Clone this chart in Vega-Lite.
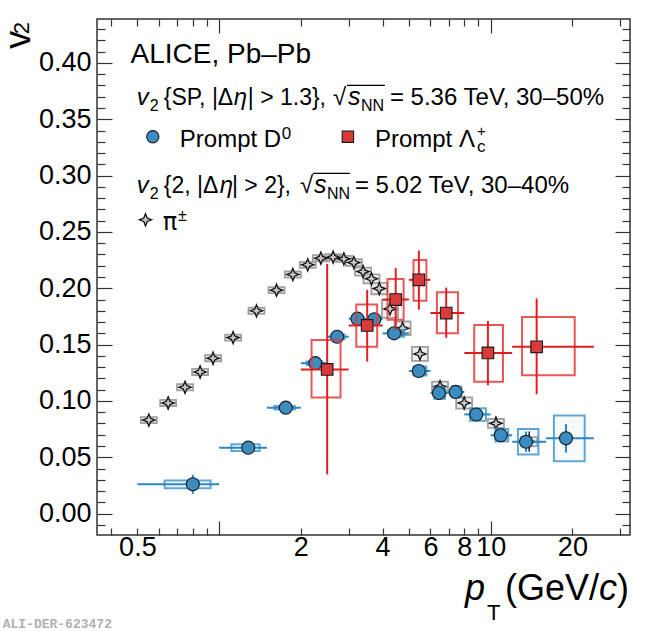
{
  "$schema": "https://vega.github.io/schema/vega-lite/v6.json",
  "width": 533,
  "height": 516,
  "autosize": "none",
  "padding": {"left": 97, "top": 19, "right": 20, "bottom": 96},
  "config": {
    "font": "Liberation Sans",
    "view": {"stroke": "#333333", "strokeWidth": 1.5},
    "axis": {"grid": false, "domain": false, "tickColor": "#333333", "tickWidth": 1.2, "labelColor": "#000000", "labelFont": "Liberation Sans", "labelFontSize": 27, "labelOverlap": false, "labelFlush": false, "title": null},
    "text": {"font": "Liberation Sans", "color": "#000000", "align": "left", "baseline": "alphabetic"}
  },
  "datasets": {
    "pi": [
      {"pt": 0.551, "v2": 0.0830, "ylo": 0.0803, "yhi": 0.0857, "slo": 0.0822, "shi": 0.0838},
      {"pt": 0.649, "v2": 0.0982, "ylo": 0.0955, "yhi": 0.1009, "slo": 0.0974, "shi": 0.0990},
      {"pt": 0.749, "v2": 0.1121, "ylo": 0.1094, "yhi": 0.1148, "slo": 0.1113, "shi": 0.1129},
      {"pt": 0.851, "v2": 0.1257, "ylo": 0.1230, "yhi": 0.1284, "slo": 0.1249, "shi": 0.1265},
      {"pt": 0.950, "v2": 0.1379, "ylo": 0.1352, "yhi": 0.1406, "slo": 0.1371, "shi": 0.1387},
      {"pt": 1.126, "v2": 0.1562, "ylo": 0.1535, "yhi": 0.1589, "slo": 0.1554, "shi": 0.1570},
      {"pt": 1.373, "v2": 0.1800, "ylo": 0.1773, "yhi": 0.1827, "slo": 0.1792, "shi": 0.1808},
      {"pt": 1.627, "v2": 0.1983, "ylo": 0.1956, "yhi": 0.2010, "slo": 0.1975, "shi": 0.1991},
      {"pt": 1.869, "v2": 0.2122, "ylo": 0.2095, "yhi": 0.2149, "slo": 0.2114, "shi": 0.2130},
      {"pt": 2.120, "v2": 0.2208, "ylo": 0.2181, "yhi": 0.2235, "slo": 0.2200, "shi": 0.2216},
      {"pt": 2.370, "v2": 0.2267, "ylo": 0.2240, "yhi": 0.2294, "slo": 0.2259, "shi": 0.2275},
      {"pt": 2.630, "v2": 0.2276, "ylo": 0.2249, "yhi": 0.2303, "slo": 0.2268, "shi": 0.2284},
      {"pt": 2.880, "v2": 0.2261, "ylo": 0.2234, "yhi": 0.2288, "slo": 0.2253, "shi": 0.2269},
      {"pt": 3.135, "v2": 0.2228, "ylo": 0.2198, "yhi": 0.2258, "slo": 0.2218, "shi": 0.2238},
      {"pt": 3.390, "v2": 0.2148, "ylo": 0.2113, "yhi": 0.2183, "slo": 0.2138, "shi": 0.2158},
      {"pt": 3.640, "v2": 0.2084, "ylo": 0.2044, "yhi": 0.2124, "slo": 0.2072, "shi": 0.2096},
      {"pt": 3.890, "v2": 0.1997, "ylo": 0.1947, "yhi": 0.2047, "slo": 0.1985, "shi": 0.2009},
      {"pt": 4.260, "v2": 0.1817, "ylo": 0.1737, "yhi": 0.1897, "slo": 0.1787, "shi": 0.1847},
      {"pt": 4.740, "v2": 0.1645, "ylo": 0.1585, "yhi": 0.1705, "slo": 0.1615, "shi": 0.1675},
      {"pt": 5.490, "v2": 0.1417, "ylo": 0.1355, "yhi": 0.1479, "slo": 0.1387, "shi": 0.1447},
      {"pt": 6.510, "v2": 0.1127, "ylo": 0.1082, "yhi": 0.1172, "slo": 0.1097, "shi": 0.1157},
      {"pt": 7.990, "v2": 0.0982, "ylo": 0.0932, "yhi": 0.1032, "slo": 0.0942, "shi": 0.1022},
      {"pt": 10.46, "v2": 0.0801, "ylo": 0.0761, "yhi": 0.0841, "slo": 0.0741, "shi": 0.0861},
      {"pt": 13.87, "v2": 0.0638, "ylo": 0.0598, "yhi": 0.0678, "slo": 0.0548, "shi": 0.0728}
    ],
    "d0": [
      {"pt": 0.80, "v2": 0.0260, "plo": 0.5, "phi": 1.0, "bxlo": 0.63, "bxhi": 0.93, "ylo": 0.0226, "yhi": 0.0294, "slo": 0.0175, "shi": 0.0345},
      {"pt": 1.28, "v2": 0.0585, "plo": 1.0, "phi": 1.5, "bxlo": 1.11, "bxhi": 1.41, "ylo": 0.0555, "yhi": 0.0615, "slo": 0.0565, "shi": 0.0605},
      {"pt": 1.76, "v2": 0.0940, "plo": 1.5, "phi": 2.0, "bxlo": 1.60, "bxhi": 1.90, "ylo": 0.0925, "yhi": 0.0955, "slo": 0.0920, "shi": 0.0960},
      {"pt": 2.26, "v2": 0.1335, "plo": 2.0, "phi": 2.5, "bxlo": 2.10, "bxhi": 2.40, "ylo": 0.1320, "yhi": 0.1350, "slo": 0.1305, "shi": 0.1365},
      {"pt": 2.72, "v2": 0.1570, "plo": 2.5, "phi": 3.0, "bxlo": 2.60, "bxhi": 2.90, "ylo": 0.1550, "yhi": 0.1590, "slo": 0.1540, "shi": 0.1600},
      {"pt": 3.23, "v2": 0.1730, "plo": 3.0, "phi": 3.5, "bxlo": 3.10, "bxhi": 3.40, "ylo": 0.1710, "yhi": 0.1750, "slo": 0.1700, "shi": 0.1760},
      {"pt": 3.73, "v2": 0.1725, "plo": 3.5, "phi": 4.0, "bxlo": 3.60, "bxhi": 3.90, "ylo": 0.1705, "yhi": 0.1745, "slo": 0.1695, "shi": 0.1755},
      {"pt": 4.41, "v2": 0.1600, "plo": 4.0, "phi": 5.0, "bxlo": 4.20, "bxhi": 4.80, "ylo": 0.1570, "yhi": 0.1630, "slo": 0.1570, "shi": 0.1630},
      {"pt": 5.44, "v2": 0.1266, "plo": 5.0, "phi": 6.0, "bxlo": 5.20, "bxhi": 5.80, "ylo": 0.1226, "yhi": 0.1306, "slo": 0.1236, "shi": 0.1296},
      {"pt": 6.45, "v2": 0.1070, "plo": 6.0, "phi": 7.0, "bxlo": 6.20, "bxhi": 6.80, "ylo": 0.1020, "yhi": 0.1120, "slo": 0.1030, "shi": 0.1110},
      {"pt": 7.43, "v2": 0.1080, "plo": 7.0, "phi": 8.0, "bxlo": 7.20, "bxhi": 7.80, "ylo": 0.1033, "yhi": 0.1127, "slo": 0.1040, "shi": 0.1120},
      {"pt": 8.85, "v2": 0.0880, "plo": 8.0, "phi": 10.0, "bxlo": 8.40, "bxhi": 9.60, "ylo": 0.0825, "yhi": 0.0935, "slo": 0.0830, "shi": 0.0930},
      {"pt": 10.9, "v2": 0.0695, "plo": 10.0, "phi": 12.0, "bxlo": 10.4, "bxhi": 11.6, "ylo": 0.0640, "yhi": 0.0750, "slo": 0.0645, "shi": 0.0745},
      {"pt": 13.5, "v2": 0.0638, "plo": 12.0, "phi": 16.0, "bxlo": 12.6, "bxhi": 15.0, "ylo": 0.0525, "yhi": 0.0750, "slo": 0.0548, "shi": 0.0728},
      {"pt": 18.95, "v2": 0.0668, "plo": 16.0, "phi": 24.0, "bxlo": 17.1, "bxhi": 22.2, "ylo": 0.0465, "yhi": 0.0871, "slo": 0.0542, "shi": 0.0794}
    ],
    "lc": [
      {"pt": 2.50, "v2": 0.1280, "plo": 2.0, "phi": 3.0, "bxlo": 2.19, "bxhi": 2.80, "ylo": 0.1030, "yhi": 0.1540, "slo": 0.0348, "shi": 0.2217},
      {"pt": 3.51, "v2": 0.1670, "plo": 3.0, "phi": 4.0, "bxlo": 3.20, "bxhi": 3.82, "ylo": 0.1480, "yhi": 0.1857, "slo": 0.1350, "shi": 0.1985},
      {"pt": 4.47, "v2": 0.1900, "plo": 4.0, "phi": 5.0, "bxlo": 4.17, "bxhi": 4.78, "ylo": 0.1720, "yhi": 0.2083, "slo": 0.1630, "shi": 0.2180},
      {"pt": 5.44, "v2": 0.2075, "plo": 5.0, "phi": 6.0, "bxlo": 5.20, "bxhi": 5.80, "ylo": 0.1890, "yhi": 0.2250, "slo": 0.1810, "shi": 0.2335},
      {"pt": 6.86, "v2": 0.1780, "plo": 6.0, "phi": 8.0, "bxlo": 6.34, "bxhi": 7.58, "ylo": 0.1600, "yhi": 0.1965, "slo": 0.1560, "shi": 0.2006},
      {"pt": 9.77, "v2": 0.1426, "plo": 8.0, "phi": 12.0, "bxlo": 8.70, "bxhi": 11.1, "ylo": 0.1170, "yhi": 0.1675, "slo": 0.1140, "shi": 0.1710},
      {"pt": 14.77, "v2": 0.1480, "plo": 12.0, "phi": 24.0, "bxlo": 13.05, "bxhi": 20.4, "ylo": 0.1228, "yhi": 0.1744, "slo": 0.1060, "shi": 0.1910}
    ],
    "one": [{}]
  },
  "resolve": {"axis": {"x": "independent", "y": "independent"}},
  "layer": [
    {
      "data": {"name": "pi"},
      "mark": {"type": "rect", "width": 16, "fill": "#e2e2e2", "fillOpacity": 0.6, "stroke": "#a0a0a0", "strokeWidth": 1.8},
      "encoding": {
        "x": {"field": "pt", "type": "quantitative", "scale": {"type": "log", "domain": [0.355, 32.6], "nice": false},
          "axis": {"orient": "bottom", "values": [0.4, 0.5, 0.6, 0.7, 0.8, 0.9, 1, 2, 3, 4, 5, 6, 7, 8, 9, 10, 20, 30],
            "tickSize": {"condition": {"test": "datum.value == 1 || datum.value == 10", "value": -14}, "value": -7},
            "labelPadding": {"condition": {"test": "datum.value == 10", "value": 13}, "value": 6},
            "labelExpr": "datum.value == 0.5 ? '0.5' : (indexof([2, 4, 6, 8, 10, 20], datum.value) >= 0 ? toString(datum.value) : '')"}},
        "y": {"field": "ylo", "type": "quantitative", "scale": {"type": "linear", "domain": [-0.019, 0.439], "nice": false, "zero": false},
          "axis": {"orient": "left", "values": [-0.01, 0, 0.01, 0.02, 0.03, 0.04, 0.05, 0.06, 0.07, 0.08, 0.09, 0.1, 0.11, 0.12, 0.13, 0.14, 0.15, 0.16, 0.17, 0.18, 0.19, 0.2, 0.21, 0.22, 0.23, 0.24, 0.25, 0.26, 0.27, 0.28, 0.29, 0.3, 0.31, 0.32, 0.33, 0.34, 0.35, 0.36, 0.37, 0.38, 0.39, 0.4, 0.41, 0.42, 0.43],
            "tickSize": {"condition": {"test": "abs(datum.value * 20 - round(datum.value * 20)) < 0.000001", "value": -15}, "value": -8},
            "labelPadding": 21,
            "labelExpr": "abs(datum.value * 20 - round(datum.value * 20)) < 0.000001 && datum.value > -0.001 ? format(datum.value, '.2f') : ''"}},
        "y2": {"field": "yhi"}
      }
    },
    {
      "data": {"name": "pi"},
      "mark": {"type": "rule", "color": "#222222", "strokeWidth": 1.5},
      "encoding": {
        "x": {"field": "pt", "type": "quantitative", "scale": {"type": "log", "domain": [0.355, 32.6], "nice": false},
          "axis": {"orient": "top", "values": [0.4, 0.5, 0.6, 0.7, 0.8, 0.9, 1, 2, 3, 4, 5, 6, 7, 8, 9, 10, 20, 30],
            "tickSize": {"condition": {"test": "datum.value == 1 || datum.value == 10", "value": -14}, "value": -7},
            "labels": false}},
        "y": {"field": "slo", "type": "quantitative", "scale": {"type": "linear", "domain": [-0.019, 0.439], "nice": false, "zero": false},
          "axis": {"orient": "right", "values": [-0.01, 0, 0.01, 0.02, 0.03, 0.04, 0.05, 0.06, 0.07, 0.08, 0.09, 0.1, 0.11, 0.12, 0.13, 0.14, 0.15, 0.16, 0.17, 0.18, 0.19, 0.2, 0.21, 0.22, 0.23, 0.24, 0.25, 0.26, 0.27, 0.28, 0.29, 0.3, 0.31, 0.32, 0.33, 0.34, 0.35, 0.36, 0.37, 0.38, 0.39, 0.4, 0.41, 0.42, 0.43],
            "tickSize": {"condition": {"test": "abs(datum.value * 20 - round(datum.value * 20)) < 0.000001", "value": -15}, "value": -8},
            "labels": false}},
        "y2": {"field": "shi"}
      }
    },
    {
      "data": {"name": "pi"},
      "mark": {"type": "point", "shape": "M0,-1L0.28,-0.28L1,0L0.28,0.28L0,1L-0.28,0.28L-1,0L-0.28,-0.28Z", "size": 150, "filled": true, "fill": "#c8c8c8", "stroke": "#111111", "strokeWidth": 1.3, "opacity": 1},
      "encoding": {
        "x": {"field": "pt", "type": "quantitative", "axis": null},
        "y": {"field": "v2", "type": "quantitative", "axis": null}
      }
    },
    {
      "data": {"name": "d0"},
      "mark": {"type": "rect", "fill": "#8fc1e3", "fillOpacity": 0.08, "stroke": "#3f98d0", "strokeOpacity": 0.85, "strokeWidth": 2},
      "encoding": {
        "x": {"field": "bxlo", "type": "quantitative", "axis": null},
        "x2": {"field": "bxhi"},
        "y": {"field": "ylo", "type": "quantitative", "axis": null},
        "y2": {"field": "yhi"}
      }
    },
    {
      "data": {"name": "d0"},
      "mark": {"type": "rule", "color": "#2a86c4", "strokeWidth": 2},
      "encoding": {
        "x": {"field": "plo", "type": "quantitative", "axis": null},
        "x2": {"field": "phi"},
        "y": {"field": "v2", "type": "quantitative", "axis": null}
      }
    },
    {
      "data": {"name": "d0"},
      "mark": {"type": "rule", "color": "#2a86c4", "strokeWidth": 2},
      "encoding": {
        "x": {"field": "pt", "type": "quantitative", "axis": null},
        "y": {"field": "slo", "type": "quantitative", "axis": null},
        "y2": {"field": "shi"}
      }
    },
    {
      "data": {"name": "d0"},
      "mark": {"type": "point", "shape": "circle", "size": 170, "filled": true, "fill": "#3a8cc1", "stroke": "#1a1a1a", "strokeWidth": 1.1, "opacity": 1},
      "encoding": {
        "x": {"field": "pt", "type": "quantitative", "axis": null},
        "y": {"field": "v2", "type": "quantitative", "axis": null}
      }
    },
    {
      "data": {"name": "lc"},
      "mark": {"type": "rect", "fill": "#ffffff", "fillOpacity": 0, "stroke": "#e3393b", "strokeOpacity": 0.85, "strokeWidth": 2},
      "encoding": {
        "x": {"field": "bxlo", "type": "quantitative", "axis": null},
        "x2": {"field": "bxhi"},
        "y": {"field": "ylo", "type": "quantitative", "axis": null},
        "y2": {"field": "yhi"}
      }
    },
    {
      "data": {"name": "lc"},
      "mark": {"type": "rule", "color": "#df2020", "strokeWidth": 2},
      "encoding": {
        "x": {"field": "plo", "type": "quantitative", "axis": null},
        "x2": {"field": "phi"},
        "y": {"field": "v2", "type": "quantitative", "axis": null}
      }
    },
    {
      "data": {"name": "lc"},
      "mark": {"type": "rule", "color": "#df2020", "strokeWidth": 2},
      "encoding": {
        "x": {"field": "pt", "type": "quantitative", "axis": null},
        "y": {"field": "slo", "type": "quantitative", "axis": null},
        "y2": {"field": "shi"}
      }
    },
    {
      "data": {"name": "lc"},
      "mark": {"type": "point", "shape": "square", "size": 135, "filled": true, "fill": "#d93b3b", "stroke": "#1a1a1a", "strokeWidth": 1.1, "opacity": 1},
      "encoding": {
        "x": {"field": "pt", "type": "quantitative", "axis": null},
        "y": {"field": "v2", "type": "quantitative", "axis": null}
      }
    },
    {"data": {"name": "one"}, "mark": {"type": "text", "text": "ALICE, Pb–Pb", "fontSize": 28},
      "encoding": {"x": {"datum": 0.4716, "type": "quantitative", "axis": null}, "y": {"datum": 0.4, "type": "quantitative", "axis": null}}},

    {"data": {"name": "one"}, "mark": {"type": "text", "text": "v", "fontSize": 24, "fontStyle": "italic"},
      "encoding": {"x": {"datum": 0.4973, "type": "quantitative", "axis": null}, "y": {"datum": 0.36295, "type": "quantitative", "axis": null}}},
    {"data": {"name": "one"}, "mark": {"type": "text", "text": "2", "fontSize": 16},
      "encoding": {"x": {"datum": 0.5555, "type": "quantitative", "axis": null}, "y": {"datum": 0.35762, "type": "quantitative", "axis": null}}},
    {"data": {"name": "one"}, "mark": {"type": "text", "text": "{SP, |Δ", "fontSize": 23},
      "encoding": {"x": {"datum": 0.6250, "type": "quantitative", "axis": null}, "y": {"datum": 0.36295, "type": "quantitative", "axis": null}}},
    {"data": {"name": "one"}, "mark": {"type": "text", "text": "η", "fontSize": 24, "fontStyle": "italic"},
      "encoding": {"x": {"datum": 1.1331, "type": "quantitative", "axis": null}, "y": {"datum": 0.36295, "type": "quantitative", "axis": null}}},
    {"data": {"name": "one"}, "mark": {"type": "text", "text": "| > 1.3},", "fontSize": 23},
      "encoding": {"x": {"datum": 1.2750, "type": "quantitative", "axis": null}, "y": {"datum": 0.36295, "type": "quantitative", "axis": null}}},
    {"data": {"name": "one"}, "mark": {"type": "text", "text": "√", "fontSize": 24},
      "encoding": {"x": {"datum": 2.6240, "type": "quantitative", "axis": null}, "y": {"datum": 0.36295, "type": "quantitative", "axis": null}}},
    {"data": {"name": "one"}, "mark": {"type": "text", "text": "s", "fontSize": 25, "fontStyle": "italic"},
      "encoding": {"x": {"datum": 2.9800, "type": "quantitative", "axis": null}, "y": {"datum": 0.36295, "type": "quantitative", "axis": null}}},
    {"data": {"name": "one"}, "mark": {"type": "text", "text": "NN", "fontSize": 16},
      "encoding": {"x": {"datum": 3.3300, "type": "quantitative", "axis": null}, "y": {"datum": 0.35762, "type": "quantitative", "axis": null}}},
    {"data": {"name": "one"}, "mark": {"type": "text", "text": "= 5.36 TeV, 30–50%", "fontSize": 24},
      "encoding": {"x": {"datum": 4.2556, "type": "quantitative", "axis": null}, "y": {"datum": 0.36295, "type": "quantitative", "axis": null}}},
    {"data": {"name": "one"}, "mark": {"type": "rule", "color": "#000000", "strokeWidth": 1.3},
      "encoding": {"x": {"datum": 2.9548, "type": "quantitative", "axis": null}, "x2": {"datum": 4.0788}, "y": {"datum": 0.3801, "type": "quantitative", "axis": null}}},

    {"data": {"name": "one"}, "mark": {"type": "point", "shape": "circle", "size": 150, "filled": true, "fill": "#3a8cc1", "stroke": "#1a1a1a", "strokeWidth": 1.1, "opacity": 1},
      "encoding": {"x": {"datum": 0.5698, "type": "quantitative", "axis": null}, "y": {"datum": 0.33452, "type": "quantitative", "axis": null}}},
    {"data": {"name": "one"}, "mark": {"type": "text", "text": "Prompt D", "fontSize": 24},
      "encoding": {"x": {"datum": 0.7165, "type": "quantitative", "axis": null}, "y": {"datum": 0.32563, "type": "quantitative", "axis": null}}},
    {"data": {"name": "one"}, "mark": {"type": "text", "text": "0", "fontSize": 17},
      "encoding": {"x": {"datum": 1.7023, "type": "quantitative", "axis": null}, "y": {"datum": 0.33274, "type": "quantitative", "axis": null}}},
    {"data": {"name": "one"}, "mark": {"type": "point", "shape": "square", "size": 130, "filled": true, "fill": "#d93b3b", "stroke": "#1a1a1a", "strokeWidth": 1.1, "opacity": 1},
      "encoding": {"x": {"datum": 2.98, "type": "quantitative", "axis": null}, "y": {"datum": 0.33452, "type": "quantitative", "axis": null}}},
    {"data": {"name": "one"}, "mark": {"type": "text", "text": "Prompt Λ", "fontSize": 24},
      "encoding": {"x": {"datum": 3.7482, "type": "quantitative", "axis": null}, "y": {"datum": 0.32563, "type": "quantitative", "axis": null}}},
    {"data": {"name": "one"}, "mark": {"type": "text", "text": "c", "fontSize": 17},
      "encoding": {"x": {"datum": 8.904, "type": "quantitative", "axis": null}, "y": {"datum": 0.32119, "type": "quantitative", "axis": null}}},
    {"data": {"name": "one"}, "mark": {"type": "text", "text": "+", "fontSize": 15},
      "encoding": {"x": {"datum": 8.904, "type": "quantitative", "axis": null}, "y": {"datum": 0.3354, "type": "quantitative", "axis": null}}},

    {"data": {"name": "one"}, "mark": {"type": "text", "text": "v", "fontSize": 24, "fontStyle": "italic"},
      "encoding": {"x": {"datum": 0.4973, "type": "quantitative", "axis": null}, "y": {"datum": 0.28476, "type": "quantitative", "axis": null}}},
    {"data": {"name": "one"}, "mark": {"type": "text", "text": "2", "fontSize": 16},
      "encoding": {"x": {"datum": 0.5555, "type": "quantitative", "axis": null}, "y": {"datum": 0.27943, "type": "quantitative", "axis": null}}},
    {"data": {"name": "one"}, "mark": {"type": "text", "text": "{2, |Δ", "fontSize": 23},
      "encoding": {"x": {"datum": 0.6250, "type": "quantitative", "axis": null}, "y": {"datum": 0.28476, "type": "quantitative", "axis": null}}},
    {"data": {"name": "one"}, "mark": {"type": "text", "text": "η", "fontSize": 24, "fontStyle": "italic"},
      "encoding": {"x": {"datum": 1.0050, "type": "quantitative", "axis": null}, "y": {"datum": 0.28476, "type": "quantitative", "axis": null}}},
    {"data": {"name": "one"}, "mark": {"type": "text", "text": "| > 2},", "fontSize": 23},
      "encoding": {"x": {"datum": 1.1150, "type": "quantitative", "axis": null}, "y": {"datum": 0.28476, "type": "quantitative", "axis": null}}},
    {"data": {"name": "one"}, "mark": {"type": "text", "text": "√", "fontSize": 24},
      "encoding": {"x": {"datum": 1.9834, "type": "quantitative", "axis": null}, "y": {"datum": 0.28476, "type": "quantitative", "axis": null}}},
    {"data": {"name": "one"}, "mark": {"type": "text", "text": "s", "fontSize": 25, "fontStyle": "italic"},
      "encoding": {"x": {"datum": 2.2335, "type": "quantitative", "axis": null}, "y": {"datum": 0.28476, "type": "quantitative", "axis": null}}},
    {"data": {"name": "one"}, "mark": {"type": "text", "text": "NN", "fontSize": 16},
      "encoding": {"x": {"datum": 2.4937, "type": "quantitative", "axis": null}, "y": {"datum": 0.27943, "type": "quantitative", "axis": null}}},
    {"data": {"name": "one"}, "mark": {"type": "text", "text": "= 5.02 TeV, 30–40%", "fontSize": 24},
      "encoding": {"x": {"datum": 3.1623, "type": "quantitative", "axis": null}, "y": {"datum": 0.28476, "type": "quantitative", "axis": null}}},
    {"data": {"name": "one"}, "mark": {"type": "rule", "color": "#000000", "strokeWidth": 1.3},
      "encoding": {"x": {"datum": 2.2146, "type": "quantitative", "axis": null}, "x2": {"datum": 3.031}, "y": {"datum": 0.30191, "type": "quantitative", "axis": null}}},

    {"data": {"name": "one"}, "mark": {"type": "point", "shape": "M0,-1L0.28,-0.28L1,0L0.28,0.28L0,1L-0.28,0.28L-1,0L-0.28,-0.28Z", "size": 150, "filled": true, "fill": "#c8c8c8", "stroke": "#111111", "strokeWidth": 1.3, "opacity": 1},
      "encoding": {"x": {"datum": 0.5356, "type": "quantitative", "axis": null}, "y": {"datum": 0.26077, "type": "quantitative", "axis": null}}},
    {"data": {"name": "one"}, "mark": {"type": "text", "text": "π", "fontSize": 24, "font": "DejaVu Sans"},
      "encoding": {"x": {"datum": 0.6203, "type": "quantitative", "axis": null}, "y": {"datum": 0.25189, "type": "quantitative", "axis": null}}},
    {"data": {"name": "one"}, "mark": {"type": "text", "text": "±", "fontSize": 16},
      "encoding": {"x": {"datum": 0.7050, "type": "quantitative", "axis": null}, "y": {"datum": 0.25988, "type": "quantitative", "axis": null}}},

    {"data": {"name": "one"}, "mark": {"type": "text", "text": "v", "fontSize": 36, "angle": 270},
      "encoding": {"x": {"datum": 0.2012, "type": "quantitative", "axis": null}, "y": {"datum": 0.4127, "type": "quantitative", "axis": null}}},
    {"data": {"name": "one"}, "mark": {"type": "text", "text": "2", "fontSize": 22, "angle": 270},
      "encoding": {"x": {"datum": 0.19896, "type": "quantitative", "axis": null}, "y": {"datum": 0.4255, "type": "quantitative", "axis": null}}},

    {"data": {"name": "one"}, "mark": {"type": "text", "text": "p", "fontSize": 36, "fontStyle": "italic"},
      "encoding": {"x": {"datum": 8.0405, "type": "quantitative", "axis": null}, "y": {"datum": -0.07685, "type": "quantitative", "axis": null}}},
    {"data": {"name": "one"}, "mark": {"type": "text", "text": "T", "fontSize": 22},
      "encoding": {"x": {"datum": 9.6909, "type": "quantitative", "axis": null}, "y": {"datum": -0.09462, "type": "quantitative", "axis": null}}},
    {"data": {"name": "one"}, "mark": {"type": "text", "text": "(GeV/", "fontSize": 36},
      "encoding": {"x": {"datum": 11.29, "type": "quantitative", "axis": null}, "y": {"datum": -0.07685, "type": "quantitative", "axis": null}}},
    {"data": {"name": "one"}, "mark": {"type": "text", "text": "c", "fontSize": 36, "fontStyle": "italic"},
      "encoding": {"x": {"datum": 25.07, "type": "quantitative", "axis": null}, "y": {"datum": -0.07685, "type": "quantitative", "axis": null}}},
    {"data": {"name": "one"}, "mark": {"type": "text", "text": ")", "fontSize": 36},
      "encoding": {"x": {"datum": 29.20, "type": "quantitative", "axis": null}, "y": {"datum": -0.07685, "type": "quantitative", "axis": null}}},

    {"data": {"name": "one"}, "mark": {"type": "text", "text": "ALI-DER-623472", "fontSize": 13, "font": "Liberation Mono", "fontWeight": "bold", "color": "#b0b0b0"},
      "encoding": {"x": {"datum": 0.15958, "type": "quantitative", "axis": null}, "y": {"datum": -0.10173, "type": "quantitative", "axis": null}}}
  ]
}
